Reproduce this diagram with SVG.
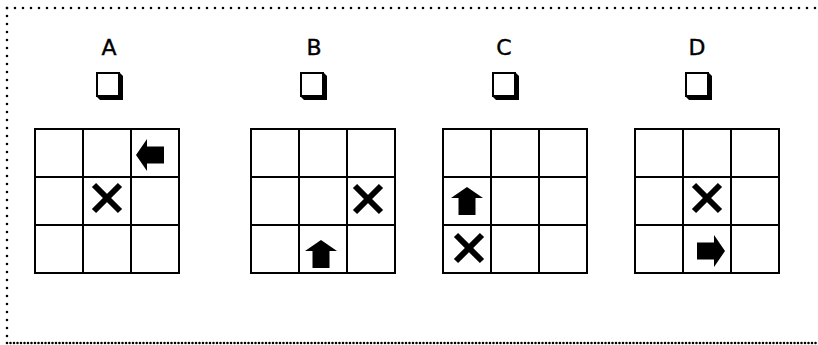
<svg xmlns="http://www.w3.org/2000/svg" width="818" height="345" viewBox="0 0 818 345">
<style>
.lbl{font-family:"DejaVu Sans","Liberation Sans",sans-serif;font-size:22px;fill:#000;text-anchor:middle;stroke:#000;stroke-width:0.4}
.grid{fill:#fff;stroke:#000;stroke-width:2}
.gl{stroke:#000;stroke-width:2}
.x{stroke:#000;stroke-width:6;stroke-linecap:butt}
.border{fill:none;stroke:#000;stroke-width:2.6;stroke-linecap:round}
</style>
<defs>
<g id="chk">
<path d="M1,1 h23 l3,3 v24 h-23 l-3,-3 z" fill="#000"/>
<rect x="1" y="1" width="22" height="23" fill="#fff" stroke="#000" stroke-width="2"/>
</g>
<path id="arrowUp" d="M0,-14 L16,-3 L8.5,-3 L8.5,14 L-8.5,14 L-8.5,-3 L-16,-3 Z" fill="#000"/>
<g id="xmark">
<line class="x" x1="-13" y1="-13" x2="13" y2="13"/>
<line class="x" x1="13" y1="-13" x2="-13" y2="13"/>
</g>
<g id="g3">
<rect class="grid" x="0" y="0" width="144" height="144"/>
<line class="gl" x1="48" y1="0" x2="48" y2="144"/>
<line class="gl" x1="96" y1="0" x2="96" y2="144"/>
<line class="gl" x1="0" y1="48" x2="144" y2="48"/>
<line class="gl" x1="0" y1="96" x2="144" y2="96"/>
</g>
</defs>
<rect width="818" height="345" fill="#fff"/>
<g id="frame">
<path class="border" d="M7,8 H818" stroke-dasharray="0 8"/>
<path class="border" d="M7,8 V343" stroke-dasharray="0 8"/>
<path class="border" d="M7,343 H818" stroke-width="2" stroke-dasharray="0 3.5"/>
</g>
<g id="optA">
<text class="lbl" x="109" y="55">A</text>
<use href="#chk" x="96" y="72"/>
<use href="#g3" x="35" y="129"/>
<use href="#xmark" x="107" y="198"/>
<use href="#arrowUp" transform="translate(150,155) rotate(-90)"/>
</g>
<g id="optB">
<text class="lbl" x="314" y="55">B</text>
<use href="#chk" x="300" y="72"/>
<use href="#g3" x="251" y="129"/>
<use href="#xmark" x="368" y="199"/>
<use href="#arrowUp" x="321" y="254"/>
</g>
<g id="optC">
<text class="lbl" x="504" y="55">C</text>
<use href="#chk" x="492" y="72"/>
<use href="#g3" x="443" y="129"/>
<use href="#xmark" x="469" y="248"/>
<use href="#arrowUp" x="467" y="201"/>
</g>
<g id="optD">
<text class="lbl" x="697" y="55">D</text>
<use href="#chk" x="685" y="72"/>
<use href="#g3" x="635" y="129"/>
<use href="#xmark" x="707" y="198"/>
<use href="#arrowUp" transform="translate(711,251) rotate(90)"/>
</g>
</svg>
